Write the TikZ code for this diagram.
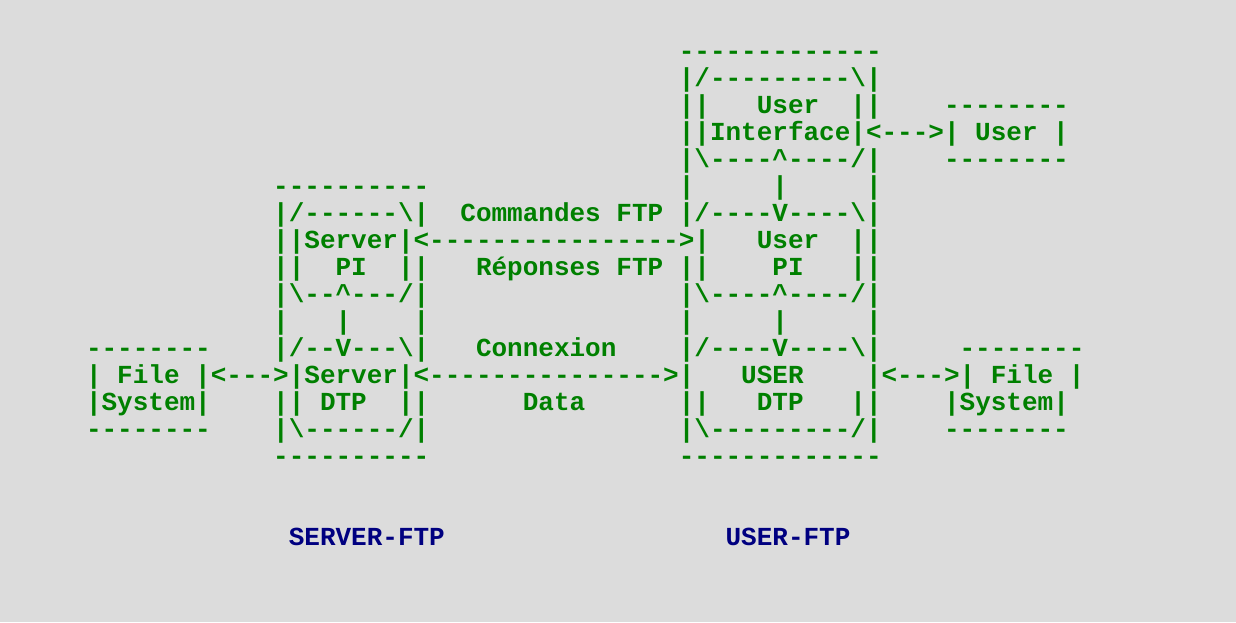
\documentclass[tikz,border=0pt]{standalone}
\usepackage{fontspec}
\setmonofont{Liberation Mono}
\definecolor{bgcol}{RGB}{220,220,220}
\definecolor{asciigreen}{RGB}{0,128,0}
\definecolor{navyblue}{RGB}{0,0,128}
\newcommand\asbs{\textbackslash}
\newcommand\ascaret{\textasciicircum}
\tikzset{
  asc/.style={anchor=base west, inner sep=0pt, outer sep=0pt, text=asciigreen,
    font=\ttfamily\bfseries\fontsize{26}{27}\selectfont},
  lbl/.style={asc, text=navyblue}
}
\begin{document}
\begin{tikzpicture}[x=1pt,y=-1pt]
\useasboundingbox[fill=bgcol] (0,0) rectangle (1236,622);
% row 0
\node[asc] (r0u) at ({86+15.6*38},{59.5+27*0}) {-------------};
% row 1
\node[asc] (r1u) at ({86+15.6*38},{59.5+27*1}) {|/---------\asbs{}|};
% row 2
\node[asc] (r2u) at ({86+15.6*38},{59.5+27*2}) {||~~~User~~||~~~~--------};
% row 3
\node[asc] (r3u) at ({86+15.6*38},{59.5+27*3}) {||Interface|<--->|~User~|};
% row 4
\node[asc] (r4u) at ({86+15.6*38},{59.5+27*4}) {|\asbs{}----\ascaret{}----/|~~~~--------};
% row 5
\node[asc] (r5s) at ({86+15.6*12},{59.5+27*5}) {----------};
\node[asc] (r5u) at ({86+15.6*38},{59.5+27*5}) {|~~~~~|~~~~~|};
% row 6
\node[asc] (r6) at ({86+15.6*12},{59.5+27*6}) {|/------\asbs{}|~~Commandes~FTP~|/----V----\asbs{}|};
% row 7
\node[asc] (r7) at ({86+15.6*12},{59.5+27*7}) {||Server|<---------------->|~~~User~~||};
% row 8
\node[asc] (r8) at ({86+15.6*12},{59.5+27*8}) {||~~PI~~||~~~Réponses~FTP~||~~~~PI~~~||};
% row 9
\node[asc] (r9s) at ({86+15.6*12},{59.5+27*9}) {|\asbs{}--\ascaret{}---/|};
\node[asc] (r9u) at ({86+15.6*38},{59.5+27*9}) {|\asbs{}----\ascaret{}----/|};
% row 10
\node[asc] (r10s) at ({86+15.6*12},{59.5+27*10}) {|~~~|~~~~|};
\node[asc] (r10u) at ({86+15.6*38},{59.5+27*10}) {|~~~~~|~~~~~|};
% row 11
\node[asc] (r11f) at ({86+15.6*0},{59.5+27*11}) {--------};
\node[asc] (r11s) at ({86+15.6*12},{59.5+27*11}) {|/--V---\asbs{}|};
\node[asc] (r11c) at ({86+15.6*25},{59.5+27*11}) {Connexion};
\node[asc] (r11u) at ({86+15.6*38},{59.5+27*11}) {|/----V----\asbs{}|};
\node[asc] (r11g) at ({86+15.6*56},{59.5+27*11}) {--------};
% row 12
\node[asc] (r12) at ({86+15.6*0},{59.5+27*12}) {|~File~|<--->|Server|<--------------->|~~~USER~~~~|<--->|~File~|};
% row 13
\node[asc] (r13) at ({86+15.6*0},{59.5+27*13}) {|System|~~~~||~DTP~~||~~~~~~Data~~~~~~||~~~DTP~~~||~~~~|System|};
% row 14
\node[asc] (r14f) at ({86+15.6*0},{59.5+27*14}) {--------};
\node[asc] (r14s) at ({86+15.6*12},{59.5+27*14}) {|\asbs{}------/|};
\node[asc] (r14u) at ({86+15.6*38},{59.5+27*14}) {|\asbs{}---------/|};
\node[asc] (r14g) at ({86+15.6*55},{59.5+27*14}) {--------};
% row 15
\node[asc] (r15s) at ({86+15.6*12},{59.5+27*15}) {----------};
\node[asc] (r15u) at ({86+15.6*38},{59.5+27*15}) {-------------};
% labels
\node[lbl] (srvlbl) at ({86+15.6*13},{59.5+27*18}) {SERVER-FTP};
\node[lbl] (usrlbl) at ({86+15.6*41},{59.5+27*18}) {USER-FTP};
\end{tikzpicture}
\end{document}
